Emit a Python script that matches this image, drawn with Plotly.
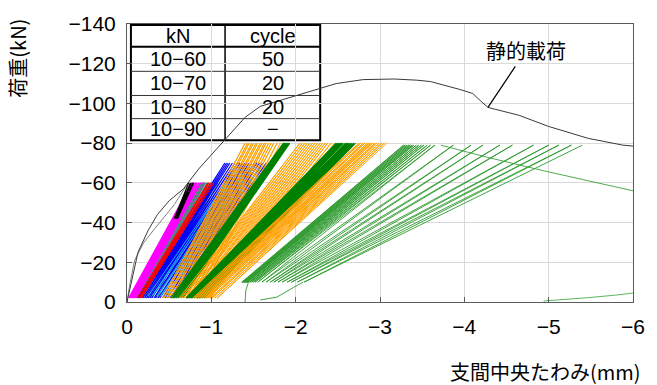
import plotly.graph_objects as go

# ---------------- data ----------------
# static loading curve  (deflection mm, load kN)
static_x = [0, -0.03, -0.06, -0.13, -0.25, -0.36, -0.5, -0.67, -0.85, -1.02, -1.2, -1.4, -1.58,
            -1.86, -2.1, -2.48, -2.8, -3.17, -3.44, -3.6, -3.95, -4.1, -4.2, -4.28, -4.65,
            -5.0, -5.47, -5.88, -6.0]
static_y = [0, -6, -12, -25, -36, -44, -51, -57, -67, -75, -84, -93, -98.5,
            -102, -105, -110, -112, -112.3, -111.7, -111, -107, -105, -101, -98, -94,
            -88.4, -82.4, -79, -78.5]

# first loading of the cyclic specimen
first_x = [0, -0.03, -0.09, -0.2, -0.33, -0.45, -0.56, -0.65, -0.71]
first_y = [0, -8, -21, -30, -37, -43, -49, -55, -59]

# cyclic groups: trough deflections / peak deflections (mm)
black_t = [-0.56, -0.57, -0.58, -0.59, -0.60]
black_p = [-0.73, -0.75, -0.76, -0.78, -0.79]

magenta_t = [-0.02, -0.025, -0.03, -0.04, -0.045, -0.05, -0.06, -0.065, -0.07, -0.08,
             -0.085, -0.09, -0.10, -0.105, -0.11, -0.12, -0.125, -0.13, -0.14, -0.15]
magenta_p = [-0.76, -0.77, -0.78, -0.78, -0.79, -0.80, -0.81, -0.82, -0.83, -0.83,
             -0.84, -0.85, -0.86, -0.87, -0.88, -0.89, -0.90, -0.91, -0.92, -0.93]

red_t = [-0.12, -0.13, -0.14, -0.15, -0.16, -0.17]
red_p = [-0.95, -0.96, -0.97, -0.99, -1.01, -1.03]

teal_t = [-0.12, -0.15, -0.18, -0.21, -0.24, -0.27, -0.30, -0.33, -0.36]
teal_p = [-0.89, -0.91, -0.93, -0.95, -0.97, -0.99, -1.02, -1.05, -1.08]

blue_t = [-0.13, -0.15, -0.17, -0.19, -0.21, -0.23, -0.25, -0.27, -0.29, -0.32, -0.34, -0.37,
          -0.39, -0.42, -0.45, -0.48, -0.51, -0.55]
blue_p = [-1.16, -1.18, -1.20, -1.22, -1.25, -1.28, -1.31, -1.34, -1.37, -1.40, -1.42, -1.45,
          -1.48, -1.51, -1.54, -1.57, -1.61, -1.65]

cyan_t = [-0.25, -0.30, -0.36, -0.40, -0.46]
cyan_p = [-1.30, -1.36, -1.44, -1.50, -1.58]

orange1_t = [-0.42, -0.44, -0.47, -0.49, -0.52, -0.54, -0.57, -0.59, -0.62, -0.64, -0.67, -0.70,
             -0.73, -0.76, -0.80, -0.84]
orange1_p = [-1.40, -1.43, -1.45, -1.48, -1.50, -1.53, -1.55, -1.58, -1.60, -1.63, -1.65, -1.68,
             -1.71, -1.74, -1.78, -1.82]

green1_t = [-0.52, -0.53, -0.54, -0.55, -0.56, -0.57, -0.58, -0.59, -0.60, -0.61, -0.62, -0.63,
            -0.64, -0.65, -0.66, -0.67]
green1_p = [-1.85, -1.855, -1.86, -1.865, -1.87, -1.875, -1.88, -1.885, -1.89, -1.895, -1.90, -1.905,
            -1.91, -1.92, -1.925, -1.93]

orange2_t = [-0.62, -0.645, -0.67, -0.70, -0.72, -0.75, -0.77, -0.80, -0.83, -0.86, -0.89, -0.92,
             -0.95, -0.98]
orange2_p = [-2.05, -2.08, -2.11, -2.14, -2.17, -2.20, -2.23, -2.26, -2.29, -2.32, -2.35, -2.38,
             -2.42, -2.46]

green2_t = [-0.70, -0.71, -0.72, -0.735, -0.75, -0.76, -0.775, -0.79, -0.80, -0.815, -0.83, -0.84,
            -0.855, -0.87, -0.89, -0.92]
green2_p = [-2.48, -2.495, -2.51, -2.525, -2.54, -2.55, -2.565, -2.58, -2.59, -2.605, -2.62, -2.635,
            -2.65, -2.67, -2.69, -2.71]

orange3_t = [-0.78, -0.80, -0.82, -0.84, -0.86, -0.88, -0.90, -0.92, -0.94, -0.96, -0.99, -1.01,
             -1.04, -1.07]
orange3_p = [-2.75, -2.77, -2.80, -2.82, -2.85, -2.87, -2.89, -2.91, -2.94, -2.96, -2.99, -3.02,
             -3.05, -3.08]

fan_start_x = [-1.40, -1.41, -1.44]
fan_start_y = [0, -6, -10]
fan_t = [-1.36, -1.37, -1.38, -1.39, -1.40, -1.41, -1.42, -1.43, -1.45, -1.46, -1.48, -1.50,
         -1.52, -1.55, -1.60, -1.65, -1.70, -1.74, -1.79, -1.84, -1.90, -1.95, -2.02, -2.10]
fan_p = [-3.28, -3.30, -3.32, -3.34, -3.36, -3.38, -3.40, -3.43, -3.46, -3.49, -3.52, -3.56,
         -3.60, -3.65, -3.87, -4.08, -4.22, -4.42, -4.57, -4.82, -5.00, -5.12, -5.27, -5.40]

reload_x = [-1.58, -1.78, -1.98, -2.09]
reload_y = [-1, -2.5, -7.5, -10]
post_x = [-3.72, -4.26, -4.95, -6.0]
post_y = [-79, -73, -66, -56]
tail_x = [-4.94, -5.2, -5.5, -5.8, -6.0]
tail_y = [-0.5, -1.2, -2.3, -3.5, -4.5]

x_ticks = [0, -1, -2, -3, -4, -5, -6]
x_ticktext = ["0", "−1", "−2", "−3", "−4", "−5", "−6"]
y_ticks = [0, -20, -40, -60, -80, -100, -120, -140]
y_ticktext = ["0", "−20", "−40", "−60", "−80", "−100", "−120", "−140"]

table_header = ["kN", "cycle"]
table_kN = ["10−60", "10−70", "10−80", "10−90"]
table_cycle = ["50", "20", "20", "−"]

label_static = "静的載荷"
x_title = "支間中央たわみ(mm)"
y_title = "荷重(kN)"

# ---------------- figure ----------------
def zigzag(troughs, peaks, lo, hi):
    xs, ys = [], []
    for t, p in zip(troughs, peaks):
        xs += [t, p]
        ys += [lo, hi]
    return xs, ys

fig = go.Figure()

def add(xs, ys, color, width=1.0):
    fig.add_trace(go.Scatter(x=xs, y=ys, mode="lines",
                             line=dict(color=color, width=width),
                             showlegend=False, hoverinfo="skip"))

groups = [
    (magenta_t, magenta_p, -2, -60, "#FF00FF", 1.2),
    (teal_t, teal_p, -2, -60, "#3C9A74", 1.0),
    (black_t, black_p, -42, -60, "#000000", 1.1),
    (blue_t, blue_p, -2, -70, "#0000FF", 1.1),
    (red_t, red_p, -2, -60, "#FF0000", 1.0),
    (cyan_t, cyan_p, -3, -68, "#1EB4F0", 1.0),
    (orange1_t, orange1_p, -2, -80, "#FFA000", 1.0),
    (green1_t, green1_p, -2, -80, "#008000", 1.2),
    (orange2_t, orange2_p, -2, -80, "#FFA000", 1.0),
    (green2_t, green2_p, -2, -80, "#008000", 1.2),
    (orange3_t, orange3_p, -2, -80, "#FFA000", 1.0),
]

add(first_x, first_y, "#808080")
add(static_x, static_y, "#3A3A3A")
for t, p, lo, hi, c, w in groups:
    xs, ys = zigzag(t, p, lo, hi)
    add(xs, ys, c, w)

fx, fy = zigzag(fan_t, fan_p, -10, -79)
add(fan_start_x + fx, fan_start_y + fy, "#2E9A2E", 0.9)
add(reload_x, reload_y, "#2E9A2E", 0.9)
add(post_x, post_y, "#3AA03A", 0.9)
add(tail_x, tail_y, "#5CB85C", 1.0)

axis_common = dict(showgrid=True, gridcolor="#D9D9D9", gridwidth=1,
                   showline=True, linecolor="#5A5A5A", linewidth=1, mirror=True,
                   ticks="inside", ticklen=5, tickcolor="#5A5A5A",
                   zeroline=False,
                   tickfont=dict(family="Liberation Sans", size=21, color="black"))

fig.update_xaxes(range=[0, -6], tickvals=x_ticks, ticktext=x_ticktext,
                 ticklabelstandoff=6, **axis_common)
fig.update_yaxes(range=[0, -140], tickvals=y_ticks, ticktext=y_ticktext,
                 ticklabelstandoff=6, **axis_common)

# table drawn with shapes + text
L, R, D = 131, 324, 227
rows_px = [21, 43, 68, 92.5, 116, 138]
W, H, X0, Y0 = 516, 282, 127, 302
px = lambda v: (v - X0) / W
py = lambda v: (Y0 - v) / H

shapes = []
shapes.append(dict(type="rect", xref="paper", yref="paper", x0=px(L), x1=px(R),
                   y0=py(rows_px[-1]), y1=py(rows_px[0]),
                   line=dict(color="black", width=2), fillcolor="rgba(0,0,0,0)", layer="below"))
shapes.append(dict(type="line", xref="paper", yref="paper", x0=px(D), x1=px(D),
                   y0=py(rows_px[-1]), y1=py(rows_px[0]), line=dict(color="black", width=1.5), layer="below"))
for i, r in enumerate(rows_px[1:-1]):
    shapes.append(dict(type="line", xref="paper", yref="paper", x0=px(L), x1=px(R),
                       y0=py(r), y1=py(r),
                       line=dict(color="black" if i == 0 else "#333333", width=2 if i == 0 else 1),
                       layer="below"))

annotations = []
cx1, cx2 = px((L + D) / 2), px((D + R) / 2)
table_rows = [table_header] + [[a, b] for a, b in zip(table_kN, table_cycle)]
for i, (a, b) in enumerate(table_rows):
    yc = py((rows_px[i] + rows_px[i + 1]) / 2)
    for xc, txt in ((cx1, a), (cx2, b)):
        annotations.append(dict(xref="paper", yref="paper", x=xc, y=yc, text=txt,
                                showarrow=False, xanchor="center", yanchor="middle",
                                font=dict(family="Liberation Sans", size=20, color="black")))

# static label with leader line
annotations.append(dict(x=static_x[23], y=static_y[23], xref="x", yref="y",
                        text=label_static, showarrow=True, arrowhead=0, arrowwidth=1.2,
                        arrowcolor="black", ax=38, ay=-57,
                        font=dict(family="Noto Sans CJK JP", size=20, color="black")))
# axis titles
annotations.append(dict(xref="paper", yref="paper", x=px(653), y=py(372), text=x_title,
                        showarrow=False, xanchor="right", yanchor="middle",
                        font=dict(family="Noto Sans CJK JP", size=20, color="black")))
annotations.append(dict(xref="paper", yref="paper", x=px(15), y=py(55), text=y_title,
                        showarrow=False, textangle=-90, xanchor="center", yanchor="middle",
                        font=dict(family="Noto Sans CJK JP", size=20, color="black")))

fig.update_layout(width=657, height=385, margin=dict(l=127, r=14, t=20, b=83),
                  paper_bgcolor="white", plot_bgcolor="white",
                  shapes=shapes, annotations=annotations)

fig.write_html("out.html")
